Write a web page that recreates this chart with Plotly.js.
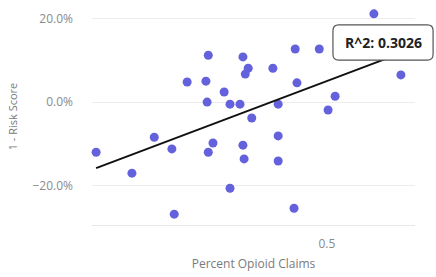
<!DOCTYPE html>
<html>
<head>
<meta charset="utf-8">
<script src="https://cdn.plot.ly/plotly-3.0.1.min.js"></script>
<style>html,body{margin:0;padding:0;background:#fff;}#chart{width:436px;height:277px;}</style>
</head>
<body>
<div id="chart"></div>
<script>
// Percent opioid claims (x) vs 1 - risk score (y)
const opioidClaims = [0.107,0.168,0.206,0.236,0.240,0.262,0.294,0.298,0.296,0.306,0.298,0.325,0.335,0.352,0.357,0.366,0.361,0.372,0.357,0.359,0.335,0.408,0.417,0.417,0.417,0.444,0.446,0.449,0.487,0.502,0.514,0.580,0.626];
const oneMinusRisk = [-0.120,-0.170,-0.084,-0.112,-0.268,0.048,0.050,0.112,0.000,-0.098,-0.120,0.024,-0.005,-0.005,0.108,0.081,0.067,-0.038,-0.103,-0.136,-0.206,0.081,-0.005,-0.081,-0.141,-0.254,0.127,0.046,0.127,-0.019,0.014,0.211,0.065];
const trendX = [0.107, 0.626];
const trendY = [-0.158, 0.117];
const rSquaredLabel = "R^2: 0.3026";
const yTickVals = [-0.2, 0, 0.2];
const xTickVals = [0.5];

const font = "'Open Sans', 'Segoe UI', sans-serif";
const data = [
  {x: opioidClaims, y: oneMinusRisk, type: 'scatter', mode: 'markers',
   marker: {color: '#6461dc', size: 9}, hoverinfo: 'none', cliponaxis: false},
  {x: trendX, y: trendY, type: 'scatter', mode: 'lines',
   line: {color: '#111', width: 2}, hoverinfo: 'none'}
];

// rounded label box (paper coords)
const bx0 = 0.746, bx1 = 1.056, by0 = 0.760, by1 = 0.922, rx = 0.018, ry = 0.027;
const boxPath = `M ${bx0+rx} ${by1} L ${bx1-rx} ${by1} Q ${bx1} ${by1} ${bx1} ${by1-ry} L ${bx1} ${by0+ry} Q ${bx1} ${by0} ${bx1-rx} ${by0} L ${bx0+rx} ${by0} Q ${bx0} ${by0} ${bx0} ${by0+ry} L ${bx0} ${by1-ry} Q ${bx0} ${by1} ${bx0+rx} ${by1} Z`;

const layout = {
  width: 436, height: 277,
  margin: {l: 92, r: 21, t: 8, b: 52},
  paper_bgcolor: '#fff', plot_bgcolor: '#fff',
  showlegend: false,
  font: {family: font, color: '#888', size: 12},
  xaxis: {range: [0.1, 0.65], tickvals: xTickVals, ticktext: ['0.5'],
          showgrid: false, zeroline: false, showline: true, linecolor: '#e8e8e8', linewidth: 1,
          ticks: '', ticklabelstandoff: 8,
          tickfont: {size: 12, color: '#8a8a8a'},
          title: {text: 'Percent Opioid Claims', font: {size: 12, color: '#7a7a7a'}, standoff: 8}},
  yaxis: {range: [-0.294, 0.225], tickvals: yTickVals, tickformat: '.1%',
          showgrid: true, gridcolor: '#ececec', gridwidth: 1, zeroline: false, showline: false,
          ticks: '', ticklabelstandoff: 18,
          tickfont: {size: 12, color: '#8a8a8a'},
          title: {text: '1 - Risk Score', font: {size: 11, color: '#7a7a7a'}, standoff: 12}},
  shapes: [{type: 'path', xref: 'paper', yref: 'paper', path: boxPath,
            fillcolor: '#fff', line: {color: '#555', width: 1.2}, layer: 'above'}],
  annotations: [{
    xref: 'paper', yref: 'paper', x: (bx0 + bx1) / 2, y: (by0 + by1) / 2, xanchor: 'center', yanchor: 'middle',
    text: '<b>' + rSquaredLabel + '</b>', showarrow: false,
    font: {family: font, size: 14, color: '#222'}
  }]
};
Plotly.newPlot('chart', data, layout, {staticPlot: true, displayModeBar: false});
</script>
</body>
</html>
